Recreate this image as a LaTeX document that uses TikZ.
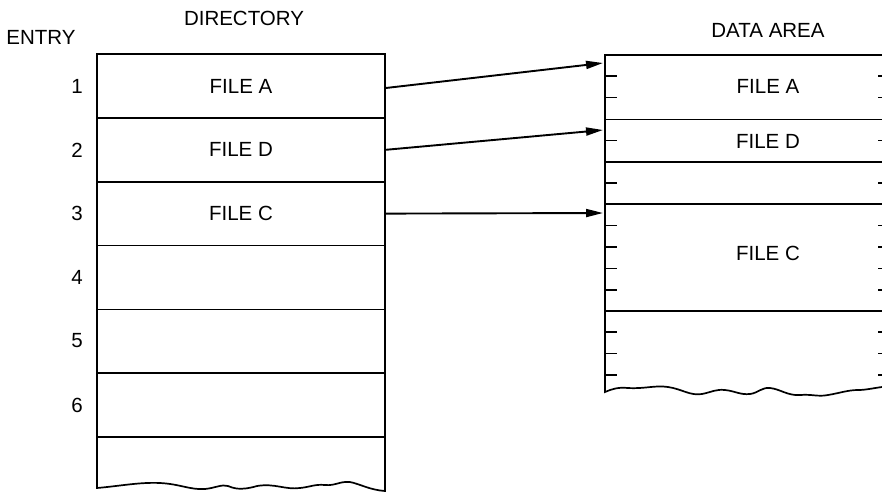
\documentclass[tikz,border=0pt]{standalone}
\usepackage{fontspec}
\setmainfont{Liberation Sans}
\usetikzlibrary{arrows.meta}
\begin{document}
\begin{tikzpicture}[x=1pt,y=-1pt,
  lbl/.style={font=\fontsize{20.5}{22}\selectfont, inner sep=0pt},
  cell/.style={draw, line width=1.6pt, minimum width=288pt, minimum height=63.8pt, inner sep=0pt, lbl},
  frame/.style={line width=1.7pt},
  tick/.style={line width=1.6pt},
  ptr/.style={line width=1.9pt, -{Triangle[length=17pt,width=8pt]}}]
\useasboundingbox (0,0) rectangle (882,493);
% headings
\node[lbl] (hdir) at (244,18) {DIRECTORY};
\node[lbl] (hent) at (41,37) {ENTRY};
\node[lbl] (hdat) at (768,30) {DATA AREA};
% directory cells
\node[cell] (d1) at (241,86) {FILE A};
\node[cell] (d2) at (241,149.8) {FILE D};
\node[cell] (d3) at (241,213.6) {FILE C};
\node[cell] (d4) at (241,277.4) {};
\node[cell] (d5) at (241,341.2) {};
\node[cell] (d6) at (241,405) {};
\coordinate (dbl) at (97,437);
\coordinate (dbr) at (385,437);
\draw[frame] (dbl) -- (97,488)
  .. controls (120,486) and (140,482) .. (160,483)
  .. controls (180,484) and (190,490) .. (205,489)
  .. controls (215,488) and (222,484) .. (228,486)
  .. controls (233,488) and (240,491) .. (257,486)
  .. controls (275,483) and (285,490) .. (300,488)
  .. controls (310,487) and (315,484) .. (325,485)
  .. controls (335,486) and (340,481) .. (350,482)
  .. controls (360,484) and (370,490) .. (385,491)
  -- (dbr);
% entry numbers
\foreach \n/\y in {1/86,2/150,3/213,4/277,5/341,6/405}
  \node[lbl] (e\n) at (77,\y) {\n};
% data area
\coordinate (tl) at (605,55);
\coordinate (tr) at (882,55);
\draw[frame] (882,55) -- (tl) -- (605,392)
  .. controls (612,389) and (618,387) .. (628,388)
  .. controls (645,389) and (655,385) .. (668,387)
  .. controls (682,389) and (690,396) .. (702,394)
  .. controls (712,392) and (716,389) .. (725,390)
  .. controls (735,391) and (740,395) .. (750,394)
  .. controls (758,393) and (762,387) .. (770,388)
  .. controls (780,389) and (788,396) .. (800,395)
  .. controls (812,394) and (818,397) .. (828,395)
  .. controls (840,393) and (848,390) .. (858,390)
  .. controls (866,390) and (874,388) .. (882,387);
\foreach \y in {119.3,162,204,311}
  \draw[line width=1.6pt] (605,\y) -- (882,\y);
\foreach \y in {76,97.5,140.5,183,225.5,247,268.5,290,332,353.5,375}{
  \draw[tick] (605,\y) -- (617,\y);
  \draw[tick] (878,\y) -- (882,\y);}
\node[lbl] (fa) at (768,86) {FILE A};
\node[lbl] (fd) at (768,141) {FILE D};
\node[lbl] (fc) at (768,253) {FILE C};
% pointer targets
\coordinate (a1) at (603,63);
\coordinate (a2) at (603,130);
\coordinate (a3) at (603,213);
\draw[ptr] ([yshift=-2pt]d1.east) -- (a1);
\draw[ptr] (d2.east) -- (a2);
\draw[ptr] (d3.east) -- (a3);
\end{tikzpicture}
\end{document}
